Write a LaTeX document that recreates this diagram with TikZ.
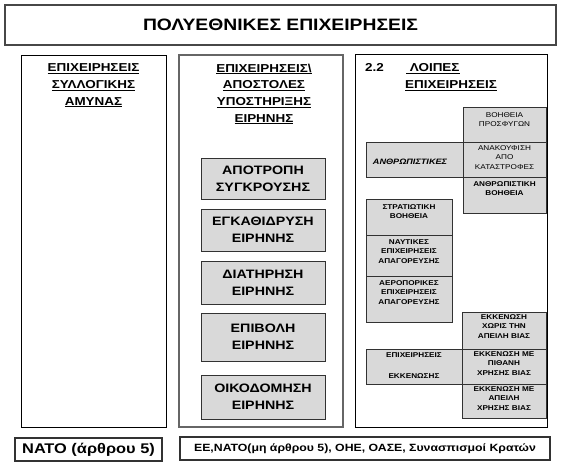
\documentclass[tikz,border=0pt]{standalone}
\usepackage{fontspec}
\setmainfont{Liberation Sans}[FakeStretch=1.17]
\definecolor{boxgray}{RGB}{217,217,217}
\definecolor{edge}{RGB}{50,50,50}
\begin{document}
\begin{tikzpicture}[x=1pt,y=-1pt,
  frame/.style={draw=edge,line width=1pt,fill=white,inner sep=0pt,outer sep=0pt},
  gbox/.style={draw=edge,line width=0.9pt,fill=boxgray,inner sep=0pt,outer sep=0pt},
  head/.style={font=\fontsize{11.5}{16.7}\selectfont\bfseries,align=center,inner sep=0pt,anchor=north},
  mid/.style={font=\fontsize{12.2}{16.7}\selectfont\bfseries,align=center,inner sep=0pt},
  small/.style={font=\fontsize{7}{9.5}\selectfont,align=center,inner sep=0pt,anchor=north},
  smallb/.style={font=\fontsize{7}{9.5}\selectfont\bfseries,align=center,inner sep=0pt,anchor=north}]
\useasboundingbox[fill=white] (0,0) rectangle (566,468);
% title
\node[frame,draw=edge!90,line width=1.2pt,minimum width=551pt,minimum height=40pt,
  font=\fontsize{16.5}{20}\selectfont\bfseries] (title) at (280.5,25) {ΠΟΛΥΕΘΝΙΚΕΣ ΕΠΙΧΕΙΡΗΣΕΙΣ};
% columns
\node[frame,draw=black,line width=0.8pt,minimum width=145pt,minimum height=372pt] (col1) at (93.5,241) {};
\node[frame,draw=gray!80!black,line width=1.4pt,minimum width=164pt,minimum height=372pt] (col2) at (261,241) {};
\node[frame,draw=black,line width=1pt,minimum width=192pt,minimum height=372pt] (col3) at (451,241) {};
% headings
\node[head] (h1) at (93.5,63.5) {\underline{ΕΠΙΧΕΙΡΗΣΕΙΣ}\\\underline{ΣΥΛΛΟΓΙΚΗΣ}\\\underline{ΑΜΥΝΑΣ}};
\node[head] (h2) at (264,63.5) {\underline{ΕΠΙΧΕΙΡΗΣΕΙΣ\textbackslash}\\\underline{ΑΠΟΣΤΟΛΕΣ}\\\underline{ΥΠΟΣΤΗΡΙΞΗΣ}\\\underline{ΕΙΡΗΝΗΣ}};
\node[font=\fontsize{11.5}{16.7}\selectfont\bfseries,inner sep=0pt,anchor=base west] (h3a) at (365,72) {2.2};
\node[font=\fontsize{11.5}{16.7}\selectfont\bfseries,inner sep=0pt,anchor=base west] (h3b) at (406,72) {\underline{\ ΛΟΙΠΕΣ}};
\node[font=\fontsize{11.5}{16.7}\selectfont\bfseries,inner sep=0pt,anchor=base west] (h3c) at (405,89) {\underline{ΕΠΙΧΕΙΡΗΣΕΙΣ}};
% middle boxes
\node[gbox,mid,minimum width=124pt,minimum height=41pt] (m1) at (263,178.5) {ΑΠΟΤΡΟΠΗ\\ΣΥΓΚΡΟΥΣΗΣ};
\node[gbox,mid,minimum width=124pt,minimum height=42pt] (m2) at (263,230) {ΕΓΚΑΘΙΔΡΥΣΗ\\ΕΙΡΗΝΗΣ};
\node[gbox,mid,minimum width=124pt,minimum height=43pt] (m3) at (263,282.5) {ΔΙΑΤΗΡΗΣΗ\\ΕΙΡΗΝΗΣ};
\node[gbox,mid,minimum width=124pt,minimum height=48pt] (m4) at (263,337) {ΕΠΙΒΟΛΗ\\ΕΙΡΗΝΗΣ};
\node[gbox,mid,minimum width=124pt,minimum height=44pt] (m5) at (263,397) {ΟΙΚΟΔΟΜΗΣΗ\\ΕΙΡΗΝΗΣ};
% right column boxes (humanitarian)
\node[gbox,minimum width=83pt,minimum height=35pt] (r1) at (504.5,124.5) {};
\node[small] (r1t) at ([yshift=-5pt]r1.north) {ΒΟΗΘΕΙΑ\\ΠΡΟΣΦΥΓΩΝ};
\node[gbox,minimum width=97pt,minimum height=35pt] (l1) at (414.5,159.5) {};
\node[font=\fontsize{7.8}{9}\selectfont\bfseries\itshape,inner sep=0pt] (l1t) at (410,162) {ΑΝΘΡΩΠΙΣΤΙΚΕΣ};
\node[gbox,minimum width=83pt,minimum height=35pt] (r2) at (504.5,159.5) {};
\node[small] (r2t) at ([yshift=-3pt]r2.north) {ΑΝΑΚΟΥΦΙΣΗ\\ΑΠΟ\\ΚΑΤΑΣΤΡΟΦΕΣ};
\node[gbox,minimum width=83pt,minimum height=36pt] (r3) at (504.5,195) {};
\node[smallb] (r3t) at ([yshift=-4pt]r3.north) {ΑΝΘΡΩΠΙΣΤΙΚΗ\\ΒΟΗΘΕΙΑ};
% military boxes
\node[gbox,minimum width=86pt,minimum height=36pt] (l2) at (409,217) {};
\node[smallb] (l2t) at ([yshift=-5pt]l2.north) {ΣΤΡΑΤΙΩΤΙΚΗ\\ΒΟΗΘΕΙΑ};
\node[gbox,minimum width=86pt,minimum height=41pt] (l3) at (409,255.5) {};
\node[smallb] (l3t) at ([yshift=-4pt]l3.north) {ΝΑΥΤΙΚΕΣ\\ΕΠΙΧΕΙΡΗΣΕΙΣ\\ΑΠΑΓΟΡΕΥΣΗΣ};
\node[gbox,minimum width=86pt,minimum height=46pt] (l4) at (409,299) {};
\node[smallb] (l4t) at ([yshift=-4pt]l4.north) {ΑΕΡΟΠΟΡΙΚΕΣ\\ΕΠΙΧΕΙΡΗΣΕΙΣ\\ΑΠΑΓΟΡΕΥΣΗΣ};
% evacuation boxes
\node[gbox,minimum width=84pt,minimum height=37pt] (e1) at (504,330.5) {};
\node[smallb] (e1t) at ([yshift=-2pt]e1.north) {ΕΚΚΕΝΩΣΗ\\ΧΩΡΙΣ ΤΗΝ\\ΑΠΕΙΛΗ ΒΙΑΣ};
\node[gbox,minimum width=96pt,minimum height=35pt] (l5) at (414,366.5) {};
\node[smallb,font=\fontsize{7}{10.5}\selectfont\bfseries] (l5t) at ([yshift=-3pt]l5.north) {ΕΠΙΧΕΙΡΗΣΕΙΣ\\[10.5pt]ΕΚΚΕΝΩΣΗΣ};
\node[gbox,minimum width=84pt,minimum height=35pt] (e2) at (504,366.5) {};
\node[smallb] (e2t) at ([yshift=-2pt]e2.north) {ΕΚΚΕΝΩΣΗ ΜΕ\\ΠΙΘΑΝΗ\\ΧΡΗΣΗΣ ΒΙΑΣ};
\node[gbox,minimum width=84pt,minimum height=34pt] (e3) at (504,401) {};
\node[smallb] (e3t) at ([yshift=-2pt]e3.north) {ΕΚΚΕΝΩΣΗ ΜΕ\\ΑΠΕΙΛΗ\\ΧΡΗΣΗΣ ΒΙΑΣ};
% bottom boxes
\node[frame,draw=edge,line width=1.2pt,minimum width=147pt,minimum height=23pt,
  font=\fontsize{14}{15}\selectfont\bfseries] (nato) at (88.5,449.5) {ΝΑΤΟ (άρθρου 5)};
\node[frame,draw=edge,line width=1.2pt,minimum width=370pt,minimum height=23pt,
  font=\fontsize{10.5}{14}\selectfont\bfseries] (others) at (365,448.5) {ΕΕ,ΝΑΤΟ(μη άρθρου 5), ΟΗΕ, ΟΑΣΕ, Συνασπισμοί Κρατών};
\end{tikzpicture}
\end{document}
